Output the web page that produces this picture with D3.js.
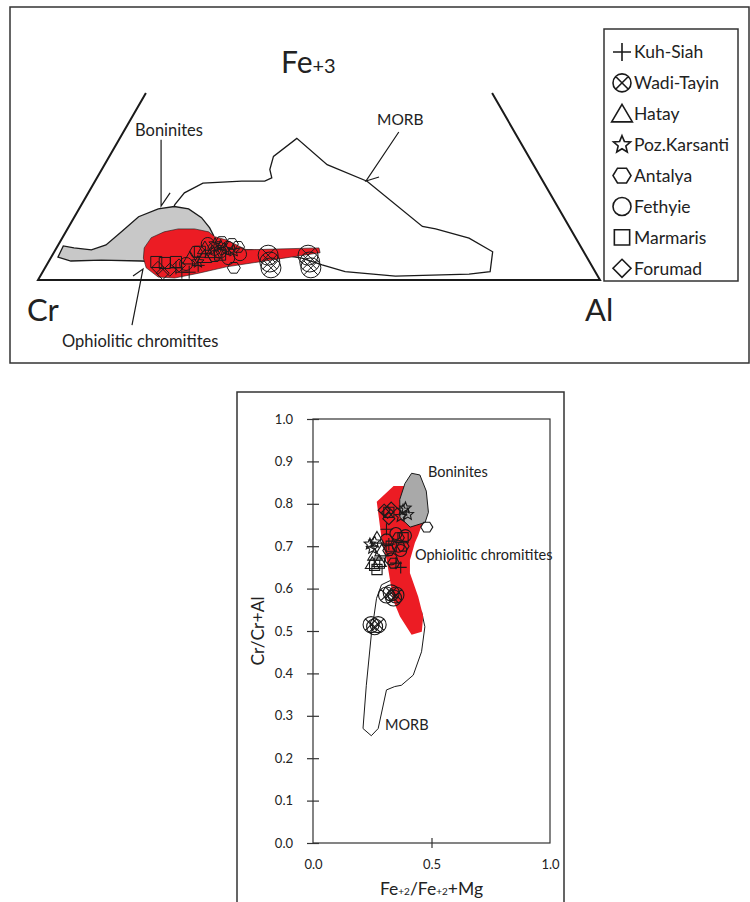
<!DOCTYPE html>
<html>
<head>
<meta charset="utf-8">
<script src="https://cdn.jsdelivr.net/npm/d3@7"></script>
<style>
  body { margin: 0; background: #fff; }
  svg { display: block; }
  text { font-family: Lato, 'Open Sans', sans-serif; fill: #222; }
</style>
</head>
<body>
<svg id="chart" width="750" height="902"></svg>
<script>
// ---- data ----
const localities = ['Kuh-Siah', 'Wadi-Tayin', 'Hatay', 'Poz.Karsanti', 'Antalya', 'Fethyie', 'Marmaris', 'Forumad'];
const shapes = ['plus', 'circleX', 'triangle', 'star', 'hexagon', 'circle', 'square', 'diamond'];

// ternary Cr - Fe3+ - Al, points given as [Al, Fe3+] fractions (Cr is the rest)
const ternMorb = [[0.18, 0.08], [0.166, 0.155], [0.171, 0.179], [0.194, 0.199], [0.261, 0.203], [0.302, 0.203],
  [0.311, 0.21], [0.299, 0.227], [0.292, 0.254], [0.315, 0.291], [0.396, 0.237], [0.484, 0.203], [0.629, 0.11],
  [0.655, 0.105], [0.724, 0.086], [0.78, 0.058], [0.796, 0.017], [0.761, 0.012], [0.632, 0.008], [0.538, 0.017],
  [0.49, 0.031], [0.447, 0.045], [0.349, 0.062], [0.224, 0.062]];
const ternBoninite = [[0.012, 0.047], [0.010, 0.070], [0.031, 0.066], [0.064, 0.062], [0.085, 0.072], [0.099, 0.099],
  [0.114, 0.130], [0.141, 0.146], [0.167, 0.151], [0.195, 0.146], [0.227, 0.128], [0.252, 0.107], [0.267, 0.091],
  [0.262, 0.058], [0.201, 0.037], [0.164, 0.039], [0.092, 0.041], [0.039, 0.039]];
const ternOphiolite = [[0.156, 0.066], [0.158, 0.087], [0.175, 0.099], [0.197, 0.105], [0.226, 0.105], [0.254, 0.099],
  [0.270, 0.089], [0.295, 0.082], [0.340, 0.062], [0.467, 0.066], [0.474, 0.056], [0.363, 0.035], [0.322, 0.027],
  [0.279, 0.014], [0.241, 0.004], [0.211, 0.006], [0.180, 0.025], [0.165, 0.045]];
const ternFeTop = 0.384;

const ternKuhSiah = [[0.248, 0.016], [0.261, 0.016], [0.233, 0.025], [0.27, 0.03]];
const ternWadiTayin = [[0.384, 0.051], [0.394, 0.037], [0.402, 0.025], [0.455, 0.051], [0.465, 0.037], [0.473, 0.025]];
const ternHatay = [[0.248, 0.045], [0.264, 0.066], [0.281, 0.058], [0.272, 0.048]];
const ternPoz = [[0.278, 0.074], [0.302, 0.062], [0.266, 0.037], [0.29, 0.07], [0.318, 0.06]];
const ternAntalya = [[0.308, 0.074], [0.336, 0.025], [0.290, 0.049], [0.252, 0.058], [0.288, 0.078], [0.322, 0.068]];
const ternFethyie = [[0.265, 0.074], [0.295, 0.058], [0.316, 0.045], [0.333, 0.053], [0.247, 0.033], [0.305, 0.066],
  [0.282, 0.064]];
const ternMarmaris = [[0.208, 0.035], [0.227, 0.037], [0.192, 0.037], [0.259, 0.058], [0.298, 0.052]];
const ternForumad = [[0.201, 0.025], [0.215, 0.014], [0.224, 0.021], [0.236, 0.03]];

// Fe2+/(Fe2+ + Mg) vs Cr/(Cr + Al)
const binMorb = [[0.420, 0.569], [0.458, 0.546], [0.472, 0.510], [0.458, 0.451], [0.423, 0.396], [0.373, 0.372],
  [0.345, 0.369], [0.310, 0.361], [0.275, 0.270], [0.246, 0.253], [0.211, 0.270], [0.225, 0.372], [0.246, 0.491],
  [0.268, 0.577], [0.289, 0.609], [0.33, 0.62]];
const binBoninite = [[0.416, 0.872], [0.451, 0.868], [0.478, 0.83], [0.487, 0.78], [0.473, 0.756], [0.41, 0.745],
  [0.367, 0.768], [0.366, 0.81], [0.388, 0.848]];
const binOphiolite = [[0.269, 0.805], [0.34, 0.842], [0.40, 0.842], [0.473, 0.758], [0.459, 0.750], [0.444, 0.726],
  [0.430, 0.708], [0.409, 0.667], [0.409, 0.637], [0.444, 0.581], [0.465, 0.534], [0.459, 0.498], [0.416, 0.491],
  [0.367, 0.534], [0.338, 0.573], [0.325, 0.620], [0.311, 0.667], [0.290, 0.715]];

const binKuhSiah = [[0.32, 0.705], [0.35, 0.66], [0.37, 0.65], [0.31, 0.74]];
const binWadiTayin = [[0.31, 0.585], [0.33, 0.59], [0.35, 0.585], [0.34, 0.578], [0.245, 0.515], [0.26, 0.51], [0.275, 0.515]];
const binHatay = [[0.27, 0.72], [0.26, 0.68], [0.28, 0.665], [0.29, 0.69], [0.25, 0.66]];
const binPoz = [[0.38, 0.785], [0.40, 0.775], [0.39, 0.79], [0.24, 0.705], [0.26, 0.71], [0.25, 0.695], [0.37, 0.77]];
const binAntalya = [[0.48, 0.745], [0.36, 0.72], [0.38, 0.70], [0.34, 0.66], [0.32, 0.69]];
const binFethyie = [[0.35, 0.73], [0.39, 0.725], [0.37, 0.69], [0.33, 0.67], [0.36, 0.70], [0.31, 0.715]];
const binMarmaris = [[0.32, 0.78], [0.26, 0.655], [0.28, 0.66], [0.27, 0.645], [0.33, 0.70], [0.38, 0.72]];
const binForumad = [[0.30, 0.785], [0.315, 0.78], [0.33, 0.79], [0.32, 0.765]];

const yTicks = [0, 0.1, 0.2, 0.3, 0.4, 0.5, 0.6, 0.7, 0.8, 0.9, 1.0];
const xTicks = [0, 0.5, 1.0];

// leader lines of the ternary labels, [Al, Fe3+]
const leadBoninite = [[0.075, 0.288], [0.143, 0.152], [0.1455, 0.179]];
const leadMorb = [[0.490, 0.304], [0.482, 0.2034], [0.501, 0.2116]];
const leadOphiolite = [[0.2135, -0.0925], [0.1755, 0.0226], [0.165, 0.0082]];

const tern = [ternKuhSiah, ternWadiTayin, ternHatay, ternPoz, ternAntalya, ternFethyie, ternMarmaris, ternForumad];
const bin = [binKuhSiah, binWadiTayin, binHatay, binPoz, binAntalya, binFethyie, binMarmaris, binForumad];
const samples = localities.map((name, i) => ({ name, shape: shapes[i], tern: tern[i], bin: bin[i] }));

const RED = '#ec1c24';
const GREY = '#c8c8c8';
const INK = '#1a1a1a';

// symbol outlines, s = half size
function sym(shape, s) {
  const k = s * 0.707;
  switch (shape) {
    case 'plus':
      return `M${-s},0H${s}M0,${-s}V${s}`;
    case 'circle':
      return `M${-s},0a${s},${s} 0 1,0 ${2 * s},0a${s},${s} 0 1,0 ${-2 * s},0Z`;
    case 'circleX':
      return sym('circle', s) + `M${-k},${-k}L${k},${k}M${-k},${k}L${k},${-k}`;
    case 'triangle':
      return `M0,${-s * 1.05}L${s * 1.15},${s * 0.9}L${-s * 1.15},${s * 0.9}Z`;
    case 'square':
      return `M${-s * 0.85},${-s * 0.85}H${s * 0.85}V${s * 0.85}H${-s * 0.85}Z`;
    case 'diamond':
      return `M0,${-s}L${s},0L0,${s}L${-s},0Z`;
    case 'hexagon': {
      const pts = d3.range(6).map((j) => {
        const a = (Math.PI / 3) * j;
        return [s * Math.cos(a), s * 0.95 * Math.sin(a)];
      });
      return 'M' + pts.join('L') + 'Z';
    }
    case 'star': {
      const pts = d3.range(10).map((j) => {
        const r = j % 2 ? s * 0.45 : s;
        const a = -Math.PI / 2 + (Math.PI / 5) * j;
        return [r * Math.cos(a), r * Math.sin(a)];
      });
      return 'M' + pts.join('L') + 'Z';
    }
  }
}

const svg = d3.select('#chart');

// ================= top panel : ternary =================
svg.append('rect')
  .attr('x', 10).attr('y', 7).attr('width', 739).attr('height', 356)
  .attr('fill', 'none').attr('stroke', '#333').attr('stroke-width', 1.5);

const tx = d3.scaleLinear().domain([0, 1]).range([38, 600]);
const ty = d3.scaleLinear().domain([0, 1]).range([280, 280 - 562 * Math.sqrt(3) / 2]);
const tPos = (d) => [tx(d[0] + d[1] / 2), ty(d[1])];
const tLine = d3.line().x((d) => tPos(d)[0]).y((d) => tPos(d)[1]);

const topG = svg.append('g');

// triangle (cut off above the plotted range)
topG.append('path')
  .datum([[0, ternFeTop], [0, 0], [1, 0], [1 - ternFeTop, ternFeTop]])
  .attr('d', tLine)
  .attr('fill', 'none').attr('stroke', INK).attr('stroke-width', 2);

topG.append('path').datum(ternMorb).attr('d', (d) => tLine(d) + 'Z')
  .attr('fill', '#fff').attr('stroke', INK).attr('stroke-width', 1.3);
topG.append('path').datum(ternBoninite).attr('d', (d) => tLine(d) + 'Z')
  .attr('fill', GREY).attr('stroke', INK).attr('stroke-width', 1.3);
topG.append('path').datum(ternOphiolite).attr('d', (d) => tLine(d) + 'Z')
  .attr('fill', RED).attr('stroke', INK).attr('stroke-width', 0.6);

[leadBoninite, leadMorb, leadOphiolite].forEach((pts) => {
  topG.append('path').datum(pts).attr('d', tLine)
    .attr('fill', 'none').attr('stroke', INK).attr('stroke-width', 1.2);
});

samples.forEach((g) => {
  topG.selectAll(null).data(g.tern).join('path')
    .attr('transform', (d) => `translate(${tPos(d)})`)
    .attr('d', sym(g.shape, g.shape === 'circleX' ? 10 : 6.5))
    .attr('fill', 'none').attr('stroke', INK).attr('stroke-width', 1);
});

// vertex and field labels
topG.append('text').attr('x', 281).attr('y', 73).style('font-size', '30px')
  .text('Fe').append('tspan').style('font-size', '20px').text('+3');
topG.append('text').attr('x', 27).attr('y', 321).style('font-size', '31px').text('Cr');
topG.append('text').attr('x', 585).attr('y', 321).style('font-size', '31px').text('Al');
topG.append('text').attr('x', 135).attr('y', 136).style('font-size', '16.5px').text('Boninites');
topG.append('text').attr('x', 377).attr('y', 125).style('font-size', '15.5px').text('MORB');
topG.append('text').attr('x', 62).attr('y', 347).style('font-size', '16.5px').text('Ophiolitic chromitites');

// legend
const legend = svg.append('g');
legend.append('rect')
  .attr('x', 604).attr('y', 29).attr('width', 134).attr('height', 252)
  .attr('fill', '#fff').attr('stroke', '#333').attr('stroke-width', 1.5);
const item = legend.selectAll('g.item').data(samples).join('g')
  .attr('class', 'item')
  .attr('transform', (d, i) => `translate(622,${52 + i * 30.9})`);
item.append('path').attr('d', (d) => sym(d.shape, 9))
  .attr('fill', 'none').attr('stroke', INK).attr('stroke-width', 1.6);
item.append('text').attr('x', 12).attr('dy', '0.36em').style('font-size', '17.5px').text((d) => d.name);

// ================= bottom panel : Cr# vs Fe# =================
svg.append('rect')
  .attr('x', 237).attr('y', 392).attr('width', 327).attr('height', 520)
  .attr('fill', 'none').attr('stroke', '#333').attr('stroke-width', 1.5);

const bx = d3.scaleLinear().domain([0, 1]).range([313, 550]);
const by = d3.scaleLinear().domain([0, 1]).range([843, 419]);
const bLine = d3.line().x((d) => bx(d[0])).y((d) => by(d[1]));

const bot = svg.append('g');
bot.append('rect')
  .attr('x', bx(0)).attr('y', by(1)).attr('width', bx(1) - bx(0)).attr('height', by(0) - by(1))
  .attr('fill', 'none').attr('stroke', '#333').attr('stroke-width', 1.2);

bot.append('path').datum(binMorb).attr('d', (d) => bLine(d) + 'Z')
  .attr('fill', '#fff').attr('stroke', INK).attr('stroke-width', 1);
bot.append('path').datum(binOphiolite).attr('d', (d) => bLine(d) + 'Z')
  .attr('fill', RED).attr('stroke', 'none');
bot.append('path').datum(binBoninite).attr('d', (d) => bLine(d) + 'Z')
  .attr('fill', '#a9a9a9').attr('stroke', INK).attr('stroke-width', 1);

samples.forEach((g) => {
  bot.selectAll(null).data(g.bin).join('path')
    .attr('transform', (d) => `translate(${bx(d[0])},${by(d[1])})`)
    .attr('d', sym(g.shape, g.shape === 'circleX' ? 8 : 6))
    .attr('fill', 'none').attr('stroke', INK).attr('stroke-width', 1.1);
});

const yAxis = d3.axisLeft(by).tickValues(yTicks).tickFormat(d3.format('.1f')).tickSize(6).tickPadding(14);
const yG = bot.append('g').attr('transform', `translate(${bx(0)},0)`).call(yAxis);
yG.select('.domain').remove();
yG.selectAll('.tick line').attr('x2', -6).attr('x1', 6).attr('stroke', '#333').attr('stroke-width', 1.2);
yG.selectAll('.tick text').style('font-size', '13px').style('font-family', 'Lato').attr('fill', '#333');

const xAxis = d3.axisBottom(bx).tickValues(xTicks).tickFormat(d3.format('.1f')).tickSize(5).tickPadding(12);
const xG = bot.append('g').attr('transform', `translate(0,${by(0)})`).call(xAxis);
xG.select('.domain').remove();
xG.selectAll('.tick line').attr('y1', -5).attr('stroke', '#333').attr('stroke-width', 1.2)
  .attr('opacity', (d) => (d === 0.5 ? 1 : 0));
xG.selectAll('.tick text').style('font-size', '13px').style('font-family', 'Lato').attr('fill', '#333');

bot.append('text')
  .attr('transform', `translate(264,${by(0.5)}) rotate(-90)`)
  .attr('text-anchor', 'middle').style('font-size', '17.5px')
  .text('Cr/Cr+Al');

const xTitle = bot.append('text').attr('x', bx(0.5)).attr('y', 895)
  .attr('text-anchor', 'middle').style('font-size', '17.5px');
xTitle.append('tspan').text('Fe');
xTitle.append('tspan').style('font-size', '10px').text('+2');
xTitle.append('tspan').text('/Fe');
xTitle.append('tspan').style('font-size', '10px').text('+2');
xTitle.append('tspan').text('+Mg');

bot.append('text').attr('x', 428).attr('y', 477).style('font-size', '14.5px').text('Boninites');
bot.append('text').attr('x', 415).attr('y', 560).style('font-size', '14.5px').text('Ophiolitic chromitites');
bot.append('text').attr('x', 385).attr('y', 730).style('font-size', '14.5px').text('MORB');
</script>
</body>
</html>
